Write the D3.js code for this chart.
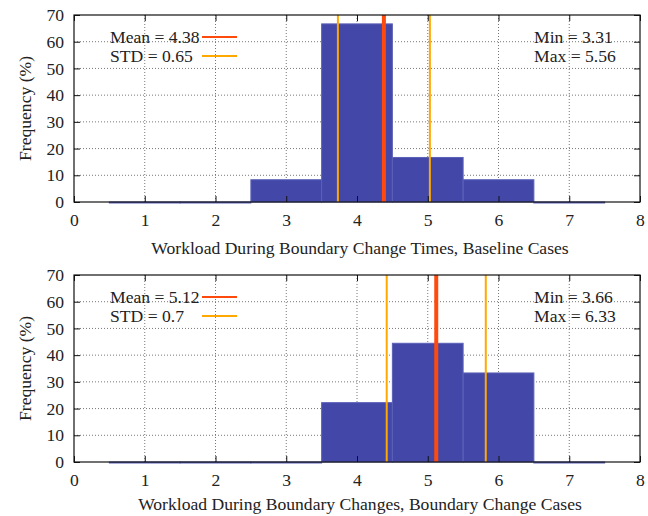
<!DOCTYPE html>
<html><head><meta charset="utf-8">
<script src="https://cdn.jsdelivr.net/npm/d3@7"></script>
<style>
body{margin:0;background:#fff;}
svg text{font-family:"Liberation Serif","DejaVu Serif",serif;fill:#222;}
</style></head>
<body><svg id="c" width="648" height="516"></svg>
<script>
// Data
const binCenters = [1, 2, 3, 4, 5, 6, 7];
const baselineFreq = [0, 0, 8.33, 66.67, 16.67, 8.33, 0];
const boundaryFreq = [0, 0, 0, 22.22, 44.44, 33.33, 0];
const xTicks = [0, 1, 2, 3, 4, 5, 6, 7, 8];
const yTicks = [0, 10, 20, 30, 40, 50, 60, 70];
const panels = [
  {freq: baselineFreq, mean: 4.38, std: 0.65, min: 3.31, max: 5.56,
   meanLabel: "Mean = 4.38", stdLabel: "STD = 0.65", minLabel: "Min = 3.31", maxLabel: "Max = 5.56",
   xLabel: "Workload During Boundary Change Times, Baseline Cases"},
  {freq: boundaryFreq, mean: 5.12, std: 0.7, min: 3.66, max: 6.33,
   meanLabel: "Mean = 5.12", stdLabel: "STD = 0.7", minLabel: "Min = 3.66", maxLabel: "Max = 6.33",
   xLabel: "Workload During Boundary Changes, Boundary Change Cases"}
];

const svg = d3.select("#c");
const left = 74, right = 640;
const tops = [15, 275], plotH = 187;
const barColor = "#4348A8", meanColor = "#FF4A0E", stdColor = "#FFA800";
const fs = 17.6;
const xLabelOffsets = [52, 48];

panels.forEach((p, i) => {
  const top = tops[i], bottom = top + plotH;
  const x = d3.scaleLinear().domain([0, 8]).range([left, right]);
  const y = d3.scaleLinear().domain([0, 70]).range([bottom, top]);
  const g = svg.append("g");

  // grid
  g.selectAll(".gx").data(xTicks.slice(1, -1)).join("line")
    .attr("x1", d => x(d)).attr("x2", d => x(d)).attr("y1", top).attr("y2", bottom)
    .attr("stroke", "#777").attr("stroke-width", 1).attr("stroke-dasharray", "1,2");
  g.selectAll(".gy").data(yTicks.slice(1, -1)).join("line")
    .attr("y1", d => y(d)).attr("y2", d => y(d)).attr("x1", left).attr("x2", right)
    .attr("stroke", "#777").attr("stroke-width", 1).attr("stroke-dasharray", "1,2");

  // bars
  g.selectAll(".bar").data(binCenters).join("rect")
    .attr("x", d => x(d - 0.5)).attr("width", d => x(d + 0.5) - x(d - 0.5))
    .attr("y", (d, j) => y(p.freq[j])).attr("height", (d, j) => Math.max(y(0) - y(p.freq[j]), 1))
    .attr("fill", barColor).attr("stroke", "#5B60B8").attr("stroke-width", 1);

  // std and mean lines
  [p.mean - p.std, p.mean + p.std].forEach(v => {
    g.append("line").attr("x1", x(v)).attr("x2", x(v)).attr("y1", top).attr("y2", bottom)
      .attr("stroke", stdColor).attr("stroke-width", 2);
  });
  g.append("line").attr("x1", x(p.mean)).attr("x2", x(p.mean)).attr("y1", top).attr("y2", bottom)
    .attr("stroke", meanColor).attr("stroke-width", 4);

  // frame
  g.append("rect").attr("x", left).attr("y", top).attr("width", right - left).attr("height", plotH)
    .attr("fill", "none").attr("stroke", "#111").attr("stroke-width", 1.2);

  // axes
  const xa = g.append("g").attr("transform", `translate(0,${bottom})`)
    .call(d3.axisBottom(x).tickValues(xTicks).tickSize(-6).tickPadding(12).tickFormat(d3.format("d")));
  const xt = g.append("g").attr("transform", `translate(0,${top})`)
    .call(d3.axisTop(x).tickValues(xTicks).tickSize(-6).tickFormat(""));
  const ya = g.append("g").attr("transform", `translate(${left},0)`)
    .call(d3.axisLeft(y).tickValues(yTicks).tickSize(-6).tickPadding(10).tickFormat(d3.format("d")));
  const yr = g.append("g").attr("transform", `translate(${right},0)`)
    .call(d3.axisRight(y).tickValues(yTicks).tickSize(-6).tickFormat(""));
  [xa, xt, ya, yr].forEach(a => {
    a.select(".domain").remove();
    a.selectAll(".tick line").attr("stroke", "#111");
    a.selectAll("text").style("font-family", '"Liberation Serif",serif').style("font-size", fs + "px").attr("fill", "#222");
  });

  // axis labels
  g.append("text").attr("transform", `translate(31,${(top + bottom) / 2}) rotate(-90)`)
    .attr("text-anchor", "middle").style("font-size", fs + "px").text("Frequency (%)");
  g.append("text").attr("x", (left + right) / 2 + 3).attr("y", bottom + xLabelOffsets[i])
    .attr("text-anchor", "middle").style("font-size", fs + "px").text(p.xLabel);

  // legend
  const r1 = top + 22, r2 = top + 41;
  g.append("text").attr("x", 110).attr("y", r1 + 6).style("font-size", fs + "px").text(p.meanLabel);
  g.append("line").attr("x1", 202).attr("x2", 237).attr("y1", r1).attr("y2", r1).attr("stroke", meanColor).attr("stroke-width", 2);
  g.append("text").attr("x", 110).attr("y", r2 + 6).style("font-size", fs + "px").text(p.stdLabel);
  g.append("line").attr("x1", 202).attr("x2", 237).attr("y1", r2).attr("y2", r2).attr("stroke", stdColor).attr("stroke-width", 2);
  g.append("text").attr("x", 534).attr("y", r1 + 6).style("font-size", fs + "px").text(p.minLabel);
  g.append("text").attr("x", 534).attr("y", r2 + 6).style("font-size", fs + "px").text(p.maxLabel);
});
</script></body></html>
